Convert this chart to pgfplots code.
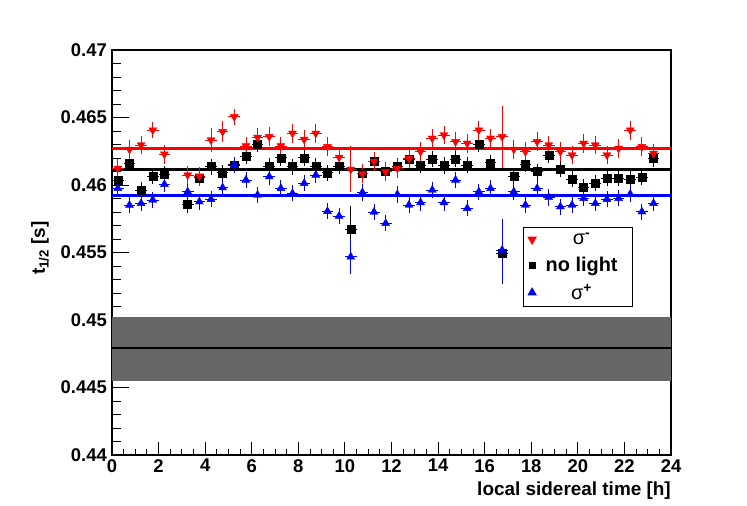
\documentclass[border=0pt]{standalone}
\usepackage{fontspec}
\setmainfont{Liberation Sans}
\usepackage{pgfplots}
\pgfplotsset{compat=1.18}
\usepackage{pgfplotstable}

\pgfplotstableread{
x     r       re      k       ke      b       be
0.25  0.46123 0.0007  0.46032 0.0006  0.45975 0.0006
0.75  0.46264 0.0007  0.46160 0.0006  0.45851 0.0006
1.25  0.46296 0.0007  0.45963 0.0006  0.45864 0.0006
1.75  0.46407 0.0006  0.46066 0.0006  0.45889 0.0006
2.25  0.46229 0.0007  0.46079 0.0006  0.46005 0.0006
3.25  0.46074 0.0007  0.45856 0.0006  0.45950 0.0006
3.75  0.46066 0.0007  0.46054 0.0006  0.45876 0.0006
4.25  0.46333 0.0009  0.46136 0.0006  0.45894 0.0006
4.75  0.46395 0.0008  0.46091 0.0006  0.45980 0.0006
5.25  0.46506 0.0006  0.46150 0.0006  0.46148 0.0006
5.75  0.46289 0.0007  0.46215 0.0006  0.46037 0.0006
6.25  0.46353 0.0007  0.46301 0.0006  0.45926 0.0006
6.75  0.46358 0.0007  0.46141 0.0006  0.46062 0.0006
7.25  0.46289 0.0007  0.46202 0.0006  0.45975 0.0006
7.75  0.46383 0.0007  0.46136 0.0006  0.45938 0.0006
8.25  0.46338 0.0007  0.46202 0.0006  0.46012 0.0006
8.75  0.46383 0.0007  0.46141 0.0006  0.46074 0.0006
9.25  0.46284 0.0007  0.46091 0.0006  0.45805 0.0006
9.75  0.46205 0.0007  0.46141 0.0006  0.45770 0.0006
10.25 0.46116 0.0017  0.45671 0.0017  0.45468 0.0013
10.75 0.46083 0.0007  0.46086 0.0006  0.45945 0.0006
11.25 0.46175 0.0007  0.46177 0.0006  0.45800 0.0006
11.75 0.46098 0.0007  0.46100 0.0006  0.45716 0.0006
12.25 0.46123 0.0007  0.46141 0.0006  0.45930 0.0006
12.75 0.46197 0.0007  0.46188 0.0006  0.45852 0.0006
13.25 0.46247 0.0007  0.46148 0.0006  0.45870 0.0006
13.75 0.46346 0.0007  0.46190 0.0006  0.45963 0.0006
14.25 0.46370 0.0007  0.46144 0.0006  0.45869 0.0006
14.75 0.46321 0.0007  0.46190 0.0006  0.46037 0.0006
15.25 0.46309 0.0007  0.46148 0.0006  0.45827 0.0006
15.75 0.46407 0.0007  0.46301 0.0006  0.45950 0.0006
16.25 0.46346 0.0007  0.46165 0.0006  0.45975 0.0006
16.75 0.46358 0.0023  0.45494 0.0023  0.45518 0.0023
17.25 0.46264 0.0007  0.46066 0.0006  0.45950 0.0006
17.75 0.46247 0.0007  0.46153 0.0006  0.45852 0.0006
18.25 0.46321 0.0007  0.46099 0.0006  0.45975 0.0006
18.75 0.46296 0.0007  0.46222 0.0006  0.45908 0.0006
19.25 0.46247 0.0007  0.46116 0.0006  0.45839 0.0006
19.75 0.46222 0.0007  0.46042 0.0006  0.45852 0.0006
20.25 0.46309 0.0007  0.45982 0.0006  0.45901 0.0006
20.75 0.46296 0.0007  0.46012 0.0006  0.45864 0.0006
21.25 0.46222 0.0007  0.46049 0.0006  0.45894 0.0006
21.75 0.46271 0.0007  0.46049 0.0006  0.45901 0.0006
22.25 0.46407 0.0007  0.46042 0.0006  0.45933 0.0006
22.75 0.46284 0.0007  0.46057 0.0006  0.45802 0.0006
23.25 0.46234 0.0007  0.46197 0.0006  0.45864 0.0006
}\data

\begin{document}
\begin{tikzpicture}
\path[use as bounding box] (-112bp,-51bp) rectangle (635bp,455bp);
\begin{axis}[
  at={(0,0)}, anchor=south west,
  width=559bp, height=405bp, scale only axis,
  xmin=0, xmax=24, ymin=0.44, ymax=0.47,
  xtick={0,2,4,6,8,10,12,14,16,18,20,22,24},
  xticklabels={0,2,4,6,8,10,12,14,16,18,20,22,24},
  minor x tick num=3,
  ytick={0.44,0.445,0.45,0.455,0.46,0.465,0.47},
  yticklabels={0.44,0.445,0.45,0.455,0.46,0.465,0.47},
  minor y tick num=4,
  tick pos=left, tick align=inside,
  major tick length=17bp, minor tick length=8.5bp,
  xtick style={/pgfplots/major tick length=13bp, /pgfplots/minor tick length=6bp},
  axis line style={line width=1.1bp},
  every tick/.style={black, line width=0.9bp},
  ticklabel style={font=\bfseries\fontsize{18.5}{18.5}\selectfont},
  yticklabel style={inner xsep=5bp},
  xticklabel style={inner ysep=4bp},
  xlabel={local sidereal time [h]},
  xlabel style={at={(rel axis cs:1,0)}, anchor=base east, yshift=-40bp, inner sep=0pt,
    font=\bfseries\fontsize{19}{19}\selectfont},
  ylabel={t\textsubscript{1/2} [s]},
  ylabel style={at={(rel axis cs:-0.1288,0.511)}, anchor=center, inner sep=0pt,
    font=\bfseries\fontsize{19}{19}\selectfont},
  legend style={at={(rel axis cs:0.7347,0.5622)}, anchor=north west, draw=black,
    line width=0.9bp, font=\fontsize{20}{20}\selectfont,
    inner xsep=5bp, inner ysep=3bp, row sep=7bp},
  clip=false,
]
% reference band
\addplot[fill=black!60, draw=none, forget plot] coordinates {(0,0.4455) (24,0.4455) (24,0.4502) (0,0.4502)} -- cycle;
\addplot[black, line width=2.2bp, forget plot] coordinates {(0,0.4479) (24,0.4479)};
% fit lines
\addplot[red, line width=3bp, forget plot] coordinates {(0,0.46269) (24,0.46269)};
\addplot[black, line width=3bp, forget plot] coordinates {(0,0.46116) (24,0.46116)};
\addplot[blue, line width=3bp, forget plot] coordinates {(0,0.45920) (24,0.45920)};
% no light (drawn first)
\addplot[only marks, black, mark=square*, mark size=4bp, forget plot,
  error bars/.cd, y dir=both, y explicit, x dir=both, x fixed=0.25,
  error bar style={line width=0.8bp}, error mark=none]
  table[x=x, y=k, y error=ke] {\data};
% sigma minus
\addplot[only marks, red, mark=triangle*, mark size=4.6bp, mark options={rotate=180},
  error bars/.cd, y dir=both, y explicit, x dir=both, x fixed=0.25,
  error bar style={line width=0.8bp}, error mark=none]
  table[x=x, y=r, y error=re] {\data};
\addlegendentry{\makebox[87bp][c]{σ\textsuperscript{\bfseries -}}}
\addlegendimage{only marks, black, mark=square*, mark size=3bp}
\addlegendentry{\makebox[87bp][c]{\bfseries no light}}
% sigma plus
\addplot[only marks, blue, mark=triangle*, mark size=4.6bp,
  error bars/.cd, y dir=both, y explicit, x dir=both, x fixed=0.25,
  error bar style={line width=0.8bp}, error mark=none]
  table[x=x, y=b, y error=be] {\data};
\addlegendentry{\makebox[87bp][c]{σ\textsuperscript{\bfseries +}}}
\end{axis}
\end{tikzpicture}
\end{document}
